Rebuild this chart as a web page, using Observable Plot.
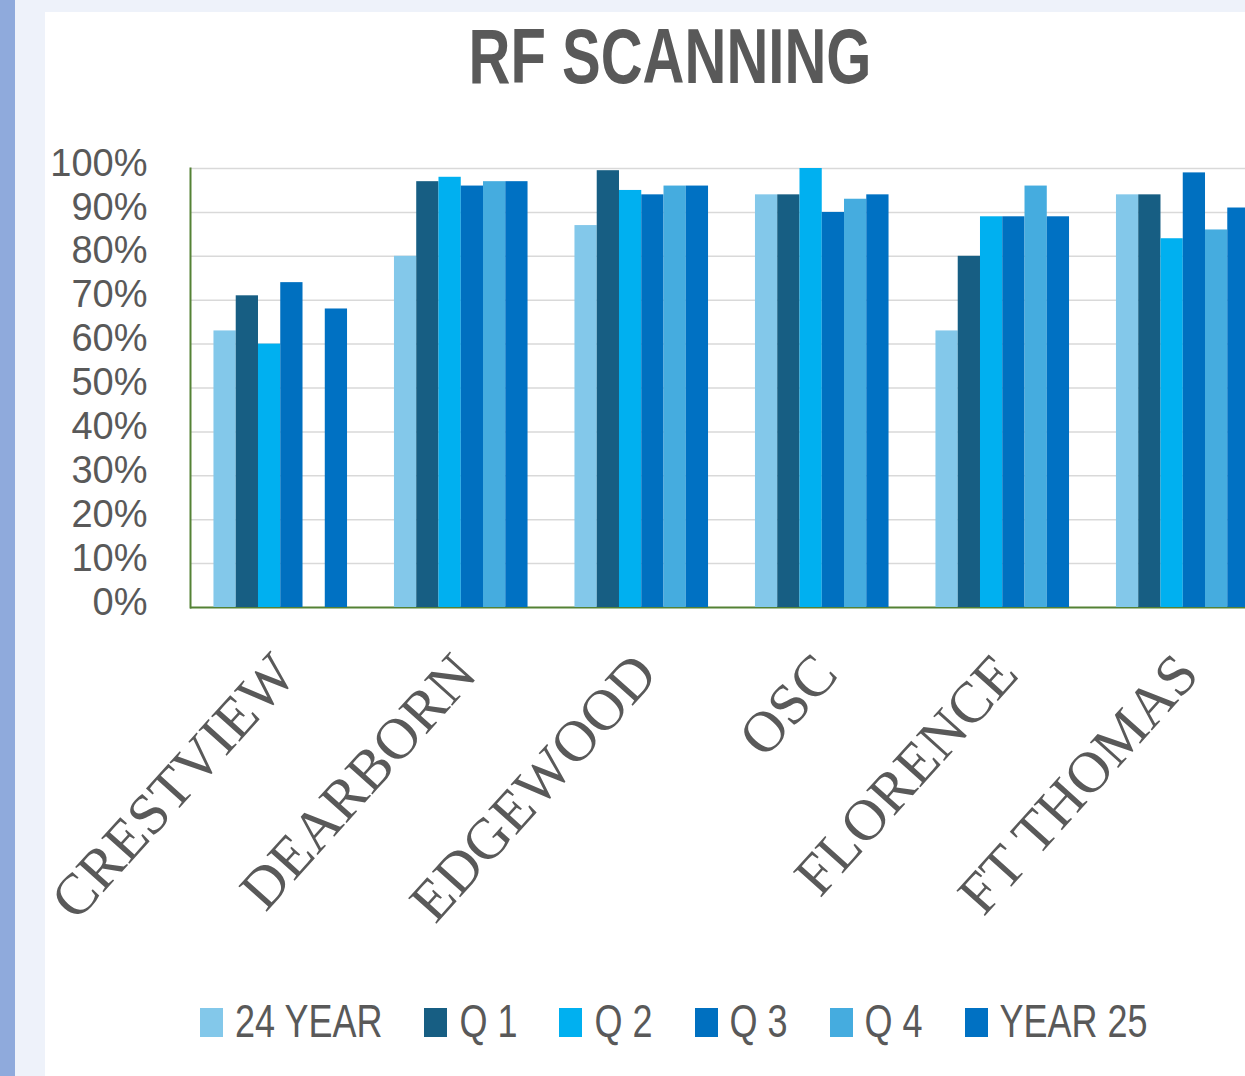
<!DOCTYPE html>
<html>
<head>
<meta charset="utf-8">
<script src="https://cdn.jsdelivr.net/npm/d3@7"></script>
<script src="https://cdn.jsdelivr.net/npm/@observablehq/plot@0.6"></script>
<style>
  body { margin: 0; }
  #root { position: relative; width: 1245px; height: 1076px; overflow: hidden; background: #ffffff; }
  .abs { position: absolute; }
  #title { position: absolute; left: 0; top: 34px; width: 1340px; text-align: center; }
  #title span { display: inline-block; font: bold 58px "Liberation Sans", Arial, sans-serif; line-height: 58px; color: #595959; transform: scaleY(1.35); transform-origin: 50% 49px; white-space: nowrap; }
  #chart svg { position: absolute; left: 0; top: 0; max-width: none !important; }
  #legend { position: absolute; left: 200px; top: 1000px; display: flex; align-items: flex-start; gap: 42px; }
  .item { display: flex; align-items: flex-start; gap: 12px; }
  .sw { width: 23px; height: 29px; margin-top: 8px; }
  .lt { display: inline-block; font: 36px "Liberation Sans", Arial, sans-serif; line-height: 36px; color: #595959; margin-top: 6.5px; transform: scaleY(1.3); transform-origin: 50% 30.5px; white-space: nowrap; }
</style>
</head>
<body>
<div id="root">
  <div class="abs" style="left:0;top:0;width:15px;height:1076px;background:#8faadc"></div>
  <div class="abs" style="left:15px;top:0;width:30px;height:1076px;background:#eef2fa"></div>
  <div class="abs" style="left:45px;top:0;width:1200px;height:12px;background:#eef2fa"></div>
  <div id="title"><span>RF SCANNING</span></div>
  <div id="chart"></div>
  <div id="legend"></div>
</div>
<script>
const sites = ["CRESTVIEW", "DEARBORN", "EDGEWOOD", "OSC", "FLORENCE", "FT THOMAS"];
const seriesNames = ["24 YEAR", "Q 1", "Q 2", "Q 3", "Q 4", "YEAR 25"];
const seriesColors = ["#83c8ea", "#175e83", "#00b0f0", "#0070c0", "#45acdf", "#0071c3"];
const year24 = [0.63, 0.80, 0.87, 0.94, 0.63, 0.94];
const q1 = [0.71, 0.97, 0.995, 0.94, 0.80, 0.94];
const q2 = [0.60, 0.98, 0.95, 1.00, 0.89, 0.84];
const q3 = [0.74, 0.96, 0.94, 0.90, 0.89, 0.99];
const q4 = [null, 0.97, 0.96, 0.93, 0.96, 0.86];
const year25 = [0.68, 0.97, 0.96, 0.94, 0.89, 0.91];
const yTicks = [0, 0.1, 0.2, 0.3, 0.4, 0.5, 0.6, 0.7, 0.8, 0.9, 1.0];

const seriesValues = [year24, q1, q2, q3, q4, year25];
const data = [];
sites.forEach((site, i) => {
  seriesNames.forEach((s, j) => {
    const v = seriesValues[j][i];
    if (v != null) data.push({site, series: s, value: v});
  });
});

const green = "#548235";
const dims = {width: 1300, height: 960, marginLeft: 190, marginRight: 27, marginTop: 168, marginBottom: 353};

const axesPlot = Plot.plot({
  ...dims,
  style: {background: "transparent", overflow: "visible", maxWidth: "none"},
  x: {type: "band", domain: sites, padding: 0, round: false},
  y: {domain: [0, 1]},
  marks: [
    Plot.gridY(yTicks.slice(1), {stroke: "#d9d9d9", strokeOpacity: 1, strokeWidth: 1.5}),
    Plot.axisY({ticks: yTicks, tickFormat: d => Math.round(d * 100) + "%", tickSize: 0, tickPadding: 43,
      fontSize: 38, fontFamily: "Liberation Sans, Arial, sans-serif", fill: "#595959", dy: -5, label: null}),
    Plot.axisX({tickRotate: -48, tickSize: 0, tickPadding: 56, fontSize: 58, textAnchor: "end", lineAnchor: "middle",
      fontFamily: "Liberation Serif, Times New Roman, serif", fill: "#595959", dx: 4, label: null}),
    Plot.ruleY([0], {stroke: green, strokeWidth: 2}),
    Plot.frame({anchor: "left", stroke: green, strokeWidth: 2})
  ]
});

const barsPlot = Plot.plot({
  ...dims,
  style: {background: "transparent", overflow: "visible", maxWidth: "none"},
  fx: {domain: sites, paddingInner: 0.26, paddingOuter: 0.13, round: false, axis: null},
  x: {domain: seriesNames, padding: 0, round: false, axis: null},
  y: {domain: [0, 1], axis: null},
  color: {domain: seriesNames, range: seriesColors},
  marks: [
    Plot.barY(data, {fx: "site", x: "series", y: "value", fill: "series"})
  ]
});

const chart = document.getElementById("chart");
chart.appendChild(axesPlot);
chart.appendChild(barsPlot);

const legend = document.getElementById("legend");
seriesNames.forEach((s, j) => {
  const item = document.createElement("div");
  item.className = "item";
  const sw = document.createElement("div");
  sw.className = "sw";
  sw.style.background = seriesColors[j];
  const t = document.createElement("span");
  t.className = "lt";
  t.textContent = s;
  item.appendChild(sw);
  item.appendChild(t);
  legend.appendChild(item);
});
</script>
</body>
</html>
